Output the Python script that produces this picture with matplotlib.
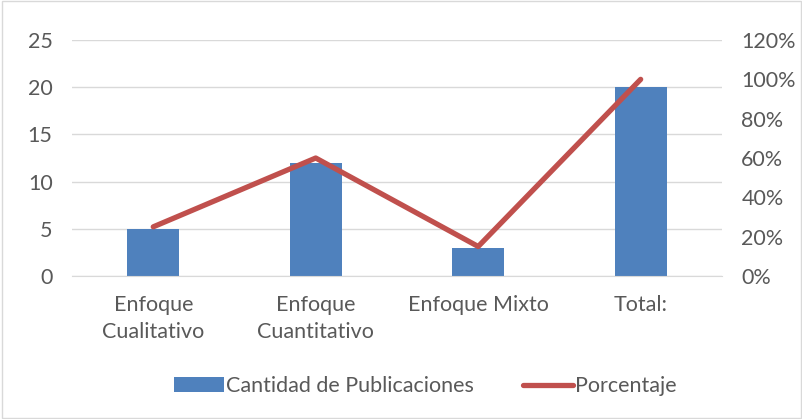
import matplotlib.pyplot as plt
from matplotlib.patches import Rectangle
from matplotlib.ticker import FuncFormatter

plt.rcParams['font.family'] = ['Lato', 'DejaVu Sans']

categorias = ['Enfoque\nCualitativo', 'Enfoque\nCuantitativo', 'Enfoque Mixto', 'Total:']
publicaciones = [5, 12, 3, 20]
porcentaje = [0.25, 0.60, 0.15, 1.00]

azul = '#4F81BD'
rojo = '#C0504D'
gris = '#595959'
fs = 15.5

fig = plt.figure(figsize=(8.03, 4.19), dpi=100)
ax = fig.add_axes([0.0897, 0.3413, 0.8093, 0.5632])
ax2 = ax.twinx()

x = range(len(categorias))
b = ax.bar(x, publicaciones, width=0.32, color=azul, zorder=2,
           label='Cantidad de Publicaciones')
l, = ax2.plot(x, porcentaje, color=rojo, lw=3.8, solid_capstyle='round',
              label='Porcentaje', zorder=3)

ax.set_xlim(-0.5, 3.5)
ax.set_ylim(0, 25)
ax.set_yticks(range(0, 26, 5))
ax2.set_ylim(0, 1.2)
ax2.set_yticks([i / 10 for i in range(0, 13, 2)])
ax2.yaxis.set_major_formatter(FuncFormatter(lambda v, p: f'{v*100:.0f}%'))

ax.set_xticks(list(x))
ax.set_xticklabels(categorias, fontsize=fs, color=gris, linespacing=1.4)
ax.grid(axis='y', color='#D9D9D9', lw=1, zorder=0)
ax.set_axisbelow(True)

for a in (ax, ax2):
    for s in a.spines.values():
        s.set_visible(False)
    a.tick_params(length=0, labelsize=fs, labelcolor=gris)
ax.spines['bottom'].set_visible(True)
ax.spines['bottom'].set_color('#D9D9D9')
ax.tick_params(axis='y', pad=14)
ax2.tick_params(axis='y', pad=14)
ax.tick_params(axis='x', pad=14)
ax.set_zorder(ax2.get_zorder() - 1)
ax.patch.set_visible(False)

fig.legend([b, l], ['Cantidad de Publicaciones', 'Porcentaje'], loc='center',
           bbox_to_anchor=(0.53, 0.078), ncol=2, frameon=False, fontsize=fs,
           labelcolor=gris, handlelength=2.3, handletextpad=0.1, columnspacing=2.3)

fig.add_artist(Rectangle((0.002, 0.002), 0.996, 0.996, transform=fig.transFigure,
                         fill=False, edgecolor='#D9D9D9', lw=1))

fig.savefig('out.png', dpi=100)
